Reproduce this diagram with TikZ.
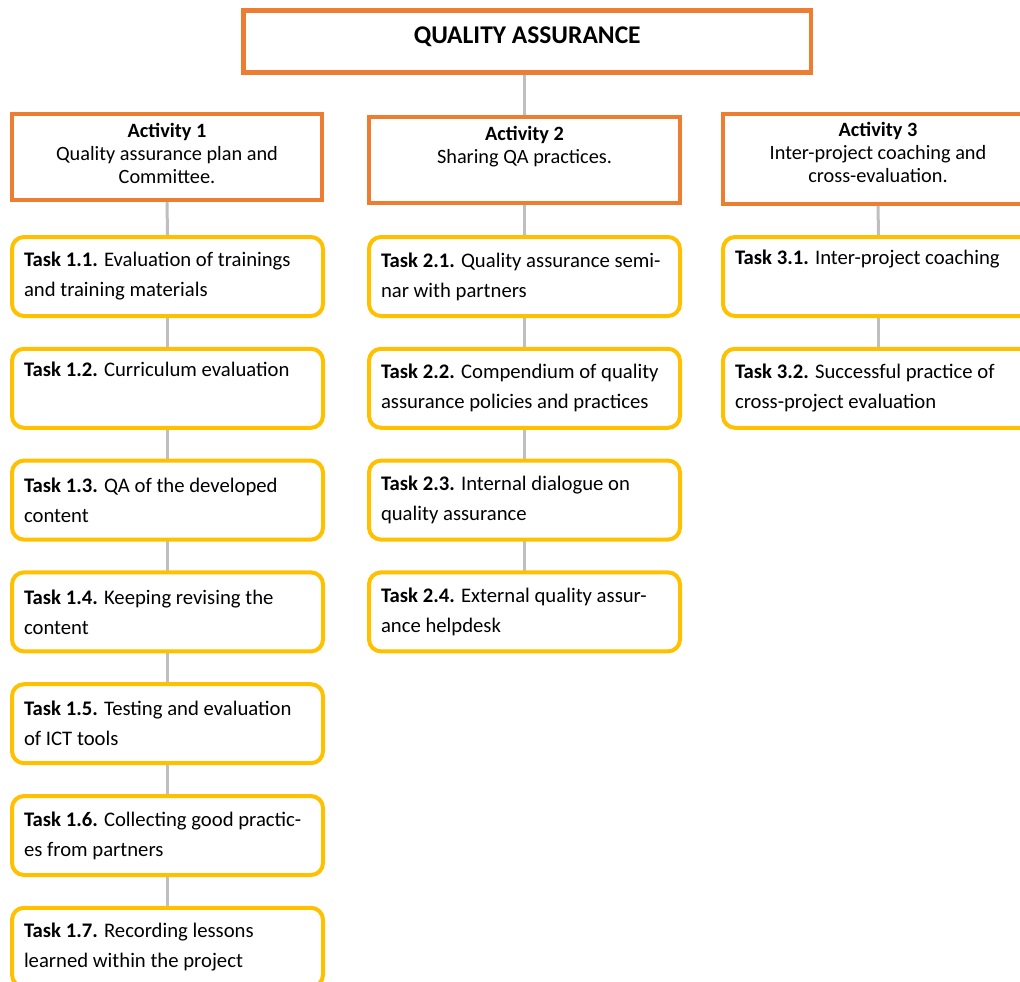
\documentclass[tikz,border=0pt]{standalone}
\usepackage{fontspec}
\setmainfont{Carlito}
\usetikzlibrary{positioning,backgrounds}
\definecolor{actcol}{HTML}{ED7D31}
\definecolor{taskcol}{HTML}{FFC000}
\definecolor{linkcol}{HTML}{BFBFBF}

\begin{document}
\begin{tikzpicture}[
  x=1pt, y=-1pt,
  node distance=32.8pt,
  headbox/.style={
    draw=actcol, fill=white, line width=4.5pt, outer sep=0pt,
    minimum width=567.5pt, minimum height=62pt,
    font=\fontsize{25.5}{30}\selectfont\bfseries,
    text height=18pt, text depth=14.4pt,
  },
  actbox/.style={
    draw=actcol, fill=white, line width=4.5pt, outer sep=0pt,
    minimum width=310pt, minimum height=86pt, align=center,
    font=\fontsize{20.3}{23}\selectfont,
    text height=60pt, text depth=7pt,
  },
  taskbox/.style={
    draw=taskcol, fill=white, line width=4pt, outer sep=0pt,
    rounded corners=12pt, minimum height=79pt,
    text width=287pt, inner xsep=12pt, align=flush left,
    font=\fontsize{20.7}{30}\selectfont,
  },
  link/.style={draw=linkcol, line width=3pt},
]
\useasboundingbox (0,0) rectangle (1020,982);
\clip (0,0) rectangle (1020,982);

% =================== top ===================
\node[headbox] (qa) at (527.2, 41.4) {QUALITY ASSURANCE};

% =================== activities ===================
\node[actbox] (act1) at (167, 157) {\textbf{Activity 1}\\Quality assurance plan and\\Committee.};
\node[actbox, minimum width=311pt, text height=37pt, text depth=30pt] (act2) at (524.5, 160) {\textbf{Activity 2}\\Sharing QA practices.};
\node[actbox, minimum height=90pt, text depth=13pt] (act3) at (878, 159) {\textbf{Activity 3}\\Inter-project coaching and\\cross-evaluation.};

% =================== tasks, activity 1 ===================
\node[taskbox] (t11) at (167.5, 276.5) {\textbf{Task 1.1.} Evaluation of trainings\\and training materials};
\node[taskbox, below=of t11] (t12) {\textbf{Task 1.2.} Curriculum evaluation\\\strut};
\node[taskbox, below=of t12] (t13) {\textbf{Task 1.3.} QA of the developed\\content};
\node[taskbox, below=of t13] (t14) {\textbf{Task 1.4.} Keeping revising the\\content};
\node[taskbox, below=of t14] (t15) {\textbf{Task 1.5.} Testing and evaluation\\of ICT tools};
\node[taskbox, below=of t15] (t16) {\textbf{Task 1.6.} Collecting good practic-\\es from partners};
\node[taskbox, below=of t16] (t17) {\textbf{Task 1.7.} Recording lessons\\learned within the project};

% =================== tasks, activity 2 ===================
\node[taskbox] (t21) at (524.5, 276.5) {\textbf{Task 2.1.} Quality assurance semi-\\nar with partners};
\node[taskbox, below=of t21] (t22) {\textbf{Task 2.2.} Compendium of quality\\assurance policies and practices};
\node[taskbox, below=of t22] (t23) {\textbf{Task 2.3.} Internal dialogue on\\quality assurance};
\node[taskbox, below=of t23] (t24) {\textbf{Task 2.4.} External quality assur-\\ance helpdesk};

% =================== tasks, activity 3 ===================
\node[taskbox] (t31) at (878.5, 276.5) {\textbf{Task 3.1.} Inter-project coaching\\\strut};
\node[taskbox, below=of t31] (t32) {\textbf{Task 3.2.} Successful practice of\\cross-project evaluation};

% connectors
\begin{scope}[on background layer]
  \draw[link] (act2.north) -- (qa.south -| act2.north);
  \foreach \a/\b in {act1/t11, t11/t12, t12/t13, t13/t14, t14/t15, t15/t16, t16/t17,
                     act2/t21, t21/t22, t22/t23, t23/t24,
                     act3/t31, t31/t32}
    \draw[link] (\a.south) -- (\b.north);
\end{scope}

\end{tikzpicture}
\end{document}
